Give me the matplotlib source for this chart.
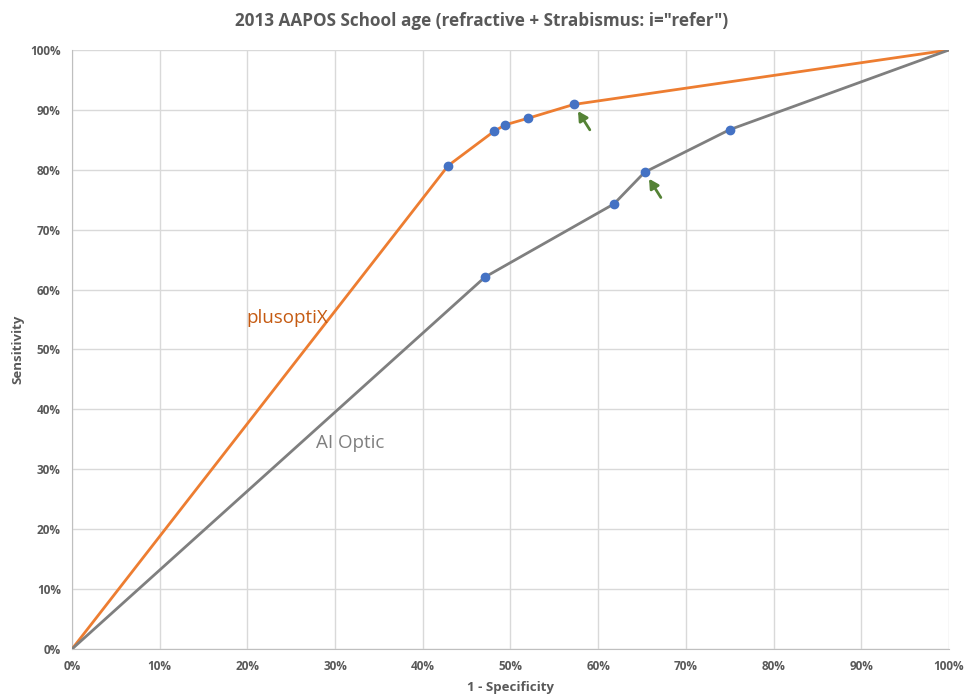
import matplotlib.pyplot as plt
from matplotlib.ticker import PercentFormatter, MultipleLocator

# ROC points (1 - specificity, sensitivity)
plusoptix_x = [0.0, 0.429, 0.481, 0.494, 0.520, 0.572, 1.0]
plusoptix_y = [0.0, 0.807, 0.864, 0.875, 0.886, 0.909, 1.0]
aioptic_x = [0.0, 0.471, 0.618, 0.653, 0.750, 1.0]
aioptic_y = [0.0, 0.621, 0.743, 0.796, 0.867, 1.0]

# arrows point at these operating points
arrow_pts = [(0.572, 0.909), (0.653, 0.796)]

title = '2013 AAPOS School age (refractive + Strabismus: i="refer")'

font = ['Open Sans', 'DejaVu Sans']
plt.rcParams['font.family'] = font

orange = '#ED7D31'
gray = '#7F7F7F'
blue = '#4472C4'
green = '#548235'
txt = '#595959'

fig = plt.figure(figsize=(9.64, 6.96), dpi=100)
ax = fig.add_axes([0.0747, 0.0675, 0.9097, 0.8607])

ax.plot(plusoptix_x, plusoptix_y, color=orange, lw=2, zorder=3)
ax.plot(aioptic_x, aioptic_y, color=gray, lw=2, zorder=3)
ax.plot(plusoptix_x[1:-1], plusoptix_y[1:-1], 'o', color=blue, ms=6, zorder=4)
ax.plot(aioptic_x[1:-1], aioptic_y[1:-1], 'o', color=blue, ms=6, zorder=4)

for p in arrow_pts:
    ax.annotate('', xy=(p[0] + 0.005, p[1] - 0.011), xytext=(8.5, -13.5), textcoords='offset points',
                arrowprops=dict(arrowstyle='-|>,head_width=0.3,head_length=0.55', color=green, lw=2,
                                shrinkA=0, shrinkB=0))

ax.text(0.246, 0.553, 'plusoptiX', color='#C55A11', fontsize=13.5, ha='center', va='center')
ax.text(0.317, 0.344, 'AI Optic', color=gray, fontsize=13.5, ha='center', va='center')

ax.set_xlim(0, 1)
ax.set_ylim(0, 1)
ax.xaxis.set_major_locator(MultipleLocator(0.1))
ax.yaxis.set_major_locator(MultipleLocator(0.1))
ax.xaxis.set_major_formatter(PercentFormatter(1.0, decimals=0))
ax.yaxis.set_major_formatter(PercentFormatter(1.0, decimals=0))
ax.grid(True, color='#D9D9D9', lw=1)
ax.set_axisbelow(True)
for s in ['top', 'right']:
    ax.spines[s].set_visible(False)
for s in ['left', 'bottom']:
    ax.spines[s].set_color('#BFBFBF')
ax.tick_params(length=0, colors=txt, labelsize=8.5, pad=8)
for lab in ax.get_xticklabels() + ax.get_yticklabels():
    lab.set_fontweight('bold')

ax.set_xlabel('1 - Specificity', color=txt, fontsize=9.5, fontweight='bold', labelpad=6)
ax.set_ylabel('Sensitivity', color=txt, fontsize=9.5, fontweight='bold', labelpad=4)
fig.suptitle(title, x=0.5, y=0.983, color=txt, fontsize=12.3, fontweight='bold')

fig.savefig('out.png', dpi=100)
